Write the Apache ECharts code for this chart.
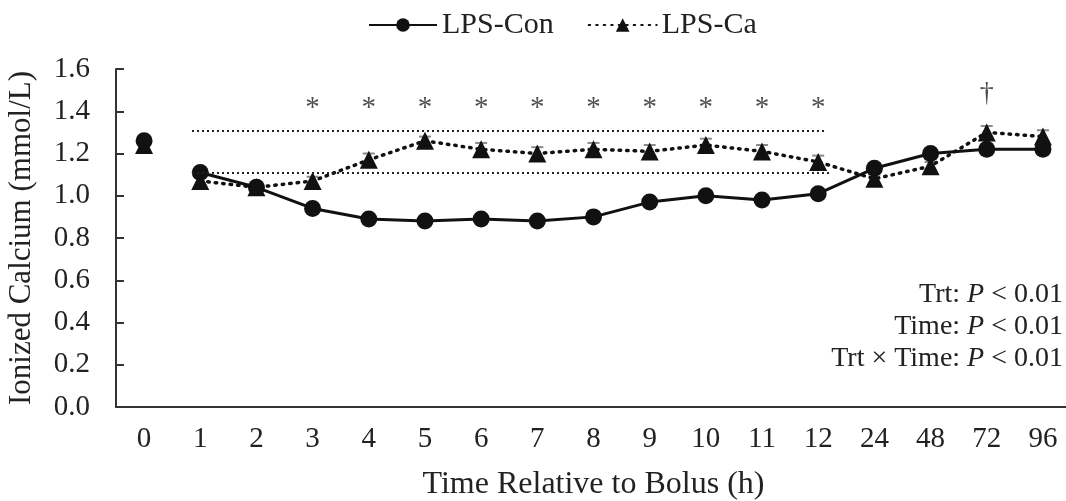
<!DOCTYPE html>
<html>
<head>
<meta charset="utf-8">
<script src="https://cdn.jsdelivr.net/npm/echarts@6/dist/echarts.min.js"></script>
<style>
  html, body { margin: 0; padding: 0; background: #fff; }
  #chart { width: 1066px; height: 501px; }
</style>
</head>
<body>
<div id="chart"></div>
<script>
// categories (hours relative to bolus)
var hours = ['0', '1', '2', '3', '4', '5', '6', '7', '8', '9', '10', '11', '12', '24', '48', '72', '96'];

// ionized calcium, mmol/L
var conVals = [1.26, 1.11, 1.04, 0.94, 0.89, 0.88, 0.89, 0.88, 0.90, 0.97, 1.00, 0.98, 1.01, 1.13, 1.20, 1.22, 1.22];
var caVals  = [1.24, 1.07, 1.04, 1.07, 1.17, 1.26, 1.22, 1.20, 1.22, 1.21, 1.24, 1.21, 1.16, 1.08, 1.14, 1.30, 1.28];
var conSem  = [0.02, 0.02, 0.02, 0.02, 0.02, 0.02, 0.02, 0.02, 0.02, 0.02, 0.02, 0.02, 0.02, 0.02, 0.02, 0.02, 0.02];
var caSem   = [0.02, 0.02, 0.02, 0.02, 0.03, 0.02, 0.03, 0.03, 0.03, 0.03, 0.03, 0.03, 0.03, 0.02, 0.02, 0.03, 0.03];

// significance marks
var starHours = ['3', '4', '5', '6', '7', '8', '9', '10', '11', '12'];
var starY = 1.415;
var daggerHours = ['72'];
var daggerY = 1.485;

// reference band (dotted lines from 1 h to 12 h)
var bandLow = 1.11;
var bandHigh = 1.31;

var yTicks = { min: 0, max: 1.6, interval: 0.2 };

var FONT = 'Liberation Serif';

var chart = echarts.init(document.getElementById('chart'));

function withGap(vals) {
  // time 0 is plotted as a separate point, not joined to the line
  return vals.map(function (v, i) { return i === 0 ? '-' : v; });
}
function onlyFirst(vals) {
  return vals.map(function (v, i) { return i === 0 ? v : '-'; });
}
function errData(vals, sem) {
  return vals.map(function (v, i) { return [i, v - sem[i], v + sem[i]]; });
}

function renderErr(params, api) {
  var x = api.value(0);
  var lo = api.coord([x, api.value(1)]);
  var hi = api.coord([x, api.value(2)]);
  var cap = 6;
  var st = { stroke: '#8a8a8a', lineWidth: 2 };
  return {
    type: 'group',
    children: [
      { type: 'line', shape: { x1: hi[0], y1: hi[1], x2: lo[0], y2: lo[1] }, style: st },
      { type: 'line', shape: { x1: hi[0] - cap, y1: hi[1], x2: hi[0] + cap, y2: hi[1] }, style: st },
      { type: 'line', shape: { x1: lo[0] - cap, y1: lo[1], x2: lo[0] + cap, y2: lo[1] }, style: st }
    ]
  };
}

var refLine = { color: '#222', type: [2, 3], width: 2 };

function pText(label) {
  return {
    text: '{a|' + label + ' }{i|P}{a| < 0.01}',
    rich: {
      a: { fontFamily: FONT, fontSize: 28, fill: '#222' },
      i: { fontFamily: FONT, fontSize: 28, fontStyle: 'italic', fill: '#222' }
    }
  };
}

var option = {
  animation: false,
  textStyle: { fontFamily: FONT },
  legend: {
    top: 5,
    left: 363,
    data: ['LPS-Con', 'LPS-Ca'],
    itemWidth: 68,
    itemHeight: 17,
    itemGap: 34,
    textStyle: { fontFamily: FONT, fontSize: 30, color: '#222' }
  },
  grid: { left: 116, top: 69, bottom: 94, width: 955, outerBoundsMode: 'none', containLabel: false },
  xAxis: {
    type: 'category',
    data: hours,
    boundaryGap: true,
    name: 'Time Relative to Bolus (h)',
    nameLocation: 'middle',
    nameGap: 62,
    nameTextStyle: { fontFamily: FONT, fontSize: 32, color: '#222' },
    axisLine: { lineStyle: { color: '#333', width: 2 } },
    axisTick: { show: false },
    axisLabel: { fontFamily: FONT, fontSize: 29, color: '#222', margin: 18 }
  },
  yAxis: {
    type: 'value',
    min: yTicks.min,
    max: yTicks.max,
    interval: yTicks.interval,
    name: 'Ionized Calcium (mmol/L)',
    nameLocation: 'middle',
    nameGap: 79,
    nameTextStyle: { fontFamily: FONT, fontSize: 31, color: '#222' },
    axisLine: { show: true, lineStyle: { color: '#333', width: 2 } },
    axisTick: { show: true, inside: true, length: 8, lineStyle: { color: '#333', width: 2 } },
    splitLine: { show: false },
    axisLabel: {
      fontFamily: FONT, fontSize: 29, color: '#222', margin: 26,
      formatter: function (v) { return v.toFixed(1); }
    }
  },
  series: [
    {
      name: 'errCon', type: 'custom', renderItem: renderErr,
      data: errData(conVals, conSem), z: 1, silent: true
    },
    {
      name: 'errCa', type: 'custom', renderItem: renderErr,
      data: errData(caVals, caSem), z: 1, silent: true
    },
    {
      name: 'LPS-Ca',
      type: 'line',
      data: withGap(caVals),
      symbol: 'triangle',
      symbolSize: 18,
      z: 3,
      itemStyle: { color: '#111' },
      lineStyle: { color: '#111', width: 3.5, type: [1.5, 6], cap: 'round' },
      markLine: {
        silent: true,
        symbol: 'none',
        label: { show: false },
        lineStyle: refLine,
        data: [
          [{ coord: ['1', bandHigh], x: 192 }, { coord: ['12', bandHigh], x: 826 }],
          [{ coord: ['1', bandLow], x: 192 }, { coord: ['12', bandLow], x: 830 }]
        ]
      }
    },
    {
      name: 'LPS-Ca 0h',
      type: 'line',
      data: onlyFirst(caVals),
      symbol: 'triangle',
      symbolSize: 18,
      z: 3,
      itemStyle: { color: '#111' }
    },
    {
      name: 'LPS-Con',
      type: 'line',
      data: withGap(conVals),
      symbol: 'circle',
      symbolSize: 17,
      z: 4,
      itemStyle: { color: '#111' },
      lineStyle: { color: '#111', width: 3 }
    },
    {
      name: 'LPS-Con 0h',
      type: 'line',
      data: onlyFirst(conVals),
      symbol: 'circle',
      symbolSize: 17,
      z: 4,
      itemStyle: { color: '#111' }
    },
    {
      name: 'stars',
      type: 'scatter',
      symbolSize: 1,
      itemStyle: { color: 'transparent' },
      data: starHours.map(function (h) { return [h, starY]; }),
      label: {
        show: true, position: 'inside', formatter: '*',
        fontFamily: FONT, fontSize: 29, color: '#222'
      }
    },
    {
      name: 'dagger',
      type: 'scatter',
      symbolSize: 1,
      itemStyle: { color: 'transparent' },
      data: daggerHours.map(function (h) { return [h, daggerY]; }),
      label: {
        show: true, position: 'inside', formatter: '\u2020',
        fontFamily: FONT, fontSize: 28, color: '#222'
      }
    }
  ],
  graphic: [
    { type: 'text', right: 3, top: 281, style: pText('Trt:') },
    { type: 'text', right: 3, top: 313, style: pText('Time:') },
    { type: 'text', right: 3, top: 345, style: pText('Trt \u00d7 Time:') }
  ]
};

chart.setOption(option);
window.addEventListener('resize', function () {
  chart.resize();
});
</script>
</body>
</html>
